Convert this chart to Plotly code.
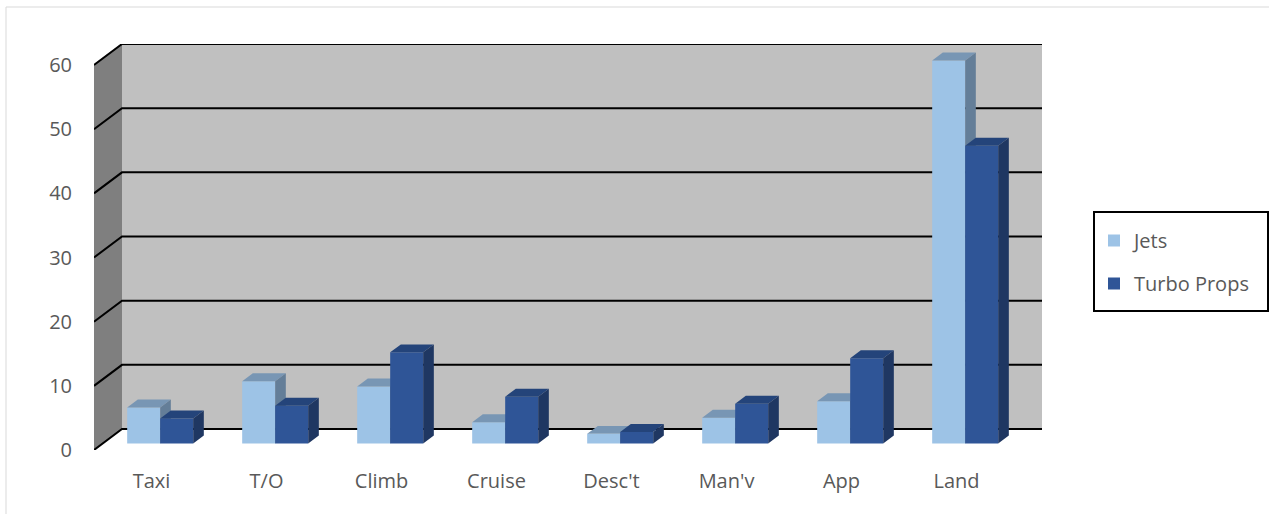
import plotly.graph_objects as go

# ---- data -------------------------------------------------------------
categories = ["Taxi", "T/O", "Climb", "Cruise", "Desc't", "Man'v", "App", "Land"]
jets = [5.6, 9.7, 8.9, 3.3, 1.5, 4.0, 6.6, 59.7]
turbo_props = [3.9, 5.9, 14.2, 7.3, 1.8, 6.2, 13.3, 46.4]
y_ticks = [0, 10, 20, 30, 40, 50, 60]

# ---- geometry of the oblique 3-D box (in axis units) ------------------
W, H = 1269, 514
M_L, M_R, M_T, M_B = 94, 227, 44, 64
PX_PER_CAT = (W - M_L - M_R) / (len(categories) + 28 / 115)
DEPTH_X = 28 / PX_PER_CAT            # back wall shift to the right
PX_PER_VAL = (H - M_T - M_B) / (60 + 21 / 6.4166)
DEPTH_Y = 21 / PX_PER_VAL            # back wall shift upwards
BAR_W = 0.287                        # front-face width of one bar
D0, D1 = 0.31, 0.69                  # bar slab inside the box depth

Y_TOP = y_ticks[-1]
X_MIN, X_MAX = -0.5, len(categories) - 0.5 + DEPTH_X
Y_MIN, Y_MAX = 0, Y_TOP + DEPTH_Y

TEXT = "#595959"
FONT = "Open Sans"
FONT_SIZE = 20

series = [
    # name, values, front, top, side, left offset
    ("Jets", jets, "#9DC3E6", "#7896B4", "#647E98", -BAR_W),
    ("Turbo Props", turbo_props, "#2F5597", "#24447A", "#1F3762", 0.0),
]

fig = go.Figure()

base = D0 * DEPTH_Y
ddx = (D1 - D0) * DEPTH_X
ddy = (D1 - D0) * DEPTH_Y

for k, (name, vals, c_front, c_top, c_side, off) in enumerate(series):
    xa, ya = ("x", "y") if k == 0 else ("x2", "y2")
    xc = [i + D0 * DEPTH_X for i in range(len(categories))]
    fig.add_trace(go.Bar(
        x=xc, y=vals, base=[base] * len(vals), width=BAR_W, offset=off,
        marker=dict(color=c_front, line=dict(width=0)),
        name=name, legendgroup=name, xaxis=xa, yaxis=ya,
        hovertemplate="%{customdata}: %{y}<extra>" + name + "</extra>",
        customdata=categories,
    ))
    tx, ty, sx, sy = [], [], [], []
    for c, v in zip(xc, vals):
        xl = c + off
        xr = xl + BAR_W
        top = base + v
        tx += [xl, xr, xr + ddx, xl + ddx, xl, None]
        ty += [top, top, top + ddy, top + ddy, top, None]
        sx += [xr, xr + ddx, xr + ddx, xr, xr, None]
        sy += [base, base + ddy, top + ddy, top, base, None]
    for px_, py_, col in ((tx, ty, c_top), (sx, sy, c_side)):
        fig.add_trace(go.Scatter(
            x=px_, y=py_, mode="lines", fill="toself", fillcolor=col,
            line=dict(width=0, color=col), showlegend=False,
            hoverinfo="skip", legendgroup=name, xaxis=xa, yaxis=ya,
        ))

# ---- walls and grid ---------------------------------------------------
shapes = []
bx0 = X_MIN + DEPTH_X
shapes.append(dict(type="rect", xref="x", yref="y", layer="below",
                   x0=bx0, x1=X_MAX, y0=DEPTH_Y, y1=Y_TOP + DEPTH_Y,
                   fillcolor="#C0C0C0", line=dict(width=0)))
shapes.append(dict(type="path", xref="x", yref="y", layer="below",
                   path=f"M{X_MIN},0 L{bx0},{DEPTH_Y} L{bx0},{Y_TOP + DEPTH_Y} "
                        f"L{X_MIN},{Y_TOP} Z",
                   fillcolor="#7F7F7F", line=dict(width=0)))
for v in y_ticks:
    shapes.append(dict(type="path", xref="x", yref="y", layer="below",
                       path=f"M{X_MIN},{v} L{bx0},{v + DEPTH_Y} L{X_MAX},{v + DEPTH_Y}",
                       line=dict(color="black", width=2)))


def px_x(p):
    return (p - M_L) / (W - M_L - M_R)


def px_y(p):
    return (H - M_B - p) / (H - M_T - M_B)


# legend frame
shapes.append(dict(type="rect", xref="paper", yref="paper",
                   x0=px_x(1094), x1=px_x(1268), y0=px_y(311), y1=px_y(212),
                   line=dict(color="black", width=2), fillcolor="rgba(0,0,0,0)"))
# chart area frame
shapes.append(dict(type="rect", xref="paper", yref="paper",
                   x0=px_x(6), x1=px_x(W + 10), y0=px_y(H + 10), y1=px_y(7),
                   line=dict(color="#D9D9D9", width=1), fillcolor="rgba(0,0,0,0)"))

fig.update_layout(
    width=W, height=H,
    margin=dict(l=M_L, r=M_R, t=M_T, b=M_B, pad=0),
    paper_bgcolor="white", plot_bgcolor="rgba(0,0,0,0)",
    barmode="overlay",
    font=dict(family=FONT, size=FONT_SIZE, color=TEXT),
    shapes=shapes,
    xaxis=dict(range=[X_MIN, X_MAX], tickvals=list(range(len(categories))),
               ticktext=categories, showgrid=False, zeroline=False,
               showline=False, ticks="", ticklabelstandoff=17, fixedrange=True),
    yaxis=dict(range=[Y_MIN, Y_MAX], tickvals=y_ticks, showgrid=False,
               zeroline=False, showline=False, ticks="", ticklabelstandoff=21,
               fixedrange=True),
    xaxis2=dict(range=[X_MIN, X_MAX], overlaying="x", visible=False, fixedrange=True),
    yaxis2=dict(range=[Y_MIN, Y_MAX], overlaying="y", visible=False, fixedrange=True),
    legend=dict(xref="container", yref="container", x=1094 / W, y=1 - 221 / H,
                xanchor="left", yanchor="top", bgcolor="rgba(0,0,0,0)",
                borderwidth=0, tracegroupgap=14,
                font=dict(family=FONT, size=FONT_SIZE, color=TEXT)),
    showlegend=True,
)

fig.write_html("out.html")
